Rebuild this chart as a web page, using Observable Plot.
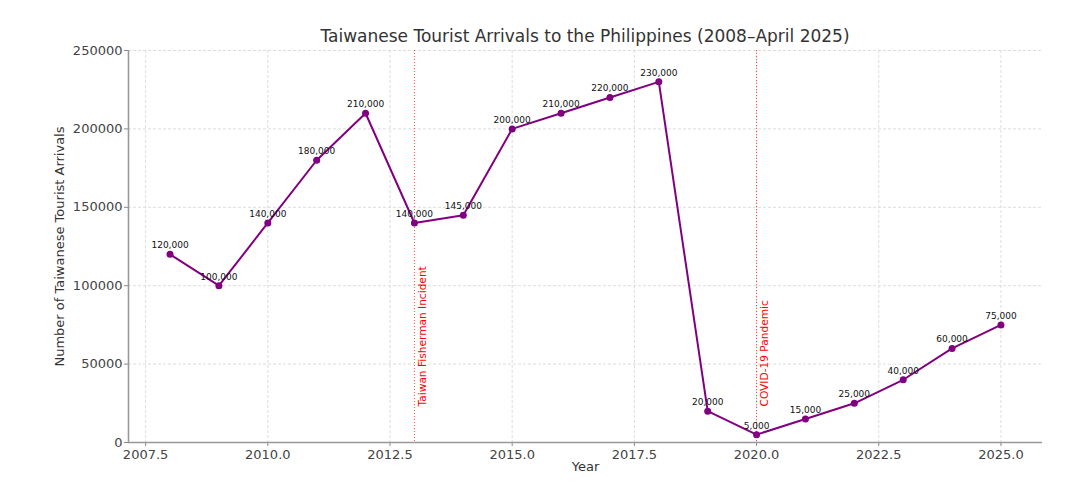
<!DOCTYPE html>
<html>
<head>
<meta charset="utf-8">
<script src="https://cdn.jsdelivr.net/npm/d3@7"></script>
<script src="https://cdn.jsdelivr.net/npm/@observablehq/plot@0.6"></script>
<style>
  body { margin: 0; background: white; font-family: "DejaVu Sans", sans-serif; }
  #wrap { position: relative; width: 1091px; height: 492px; }
  #title { position: absolute; top: 26px; left: 128px; width: 914px; text-align: center;
           font-size: 17px; line-height: 20px; color: #333; }
</style>
</head>
<body>
<div id="wrap">
  <div id="title">Taiwanese Tourist Arrivals to the Philippines (2008–April 2025)</div>
  <div id="chart"></div>
</div>
<script>
const years = [2008, 2009, 2010, 2011, 2012, 2013, 2014, 2015, 2016, 2017, 2018, 2019, 2020, 2021, 2022, 2023, 2024, 2025];
const arrivals = [120000, 100000, 140000, 180000, 210000, 140000, 145000, 200000, 210000, 220000, 230000, 20000, 5000, 15000, 25000, 40000, 60000, 75000];
const eventYears = [2013, 2020];
const eventLabels = ["Taiwan Fisherman Incident", "COVID-19 Pandemic"];
const xTicks = [2007.5, 2010, 2012.5, 2015, 2017.5, 2020, 2022.5, 2025];
const yTicks = [0, 50000, 100000, 150000, 200000, 250000];

const data = years.map((y, i) => ({year: y, value: arrivals[i]}));
const events = eventYears.map((y, i) => ({year: y, label: eventLabels[i]}));
const xDomain = [2007.15, 2025.85];
const fmt = d3.format(",");

const chart = Plot.plot({
  width: 1091,
  height: 492,
  marginLeft: 128,
  marginRight: 49,
  marginTop: 50,
  marginBottom: 50,
  style: {fontFamily: "DejaVu Sans, sans-serif", background: "white"},
  x: {domain: xDomain, label: null},
  y: {domain: [0, 250000], label: null},
  marks: [
    Plot.gridX(xTicks, {stroke: "#d4d4d4", strokeOpacity: 1, strokeDasharray: "3,2", strokeWidth: 0.8}),
    Plot.gridY(yTicks, {stroke: "#d4d4d4", strokeOpacity: 1, strokeDasharray: "3,2", strokeWidth: 0.8}),
    Plot.axisX(xTicks, {tickFormat: d3.format(".1f"), fontSize: 13, color: "#444", tickSize: 4, tickPadding: 3, label: null, stroke: "#888"}),
    Plot.axisY(yTicks, {tickFormat: d3.format("d"), fontSize: 13, color: "#444", tickSize: 4, tickPadding: 2, label: null, stroke: "#888"}),
    Plot.ruleX([xDomain[0]], {stroke: "#999", strokeWidth: 1.6}),
    Plot.ruleY([0], {stroke: "#999", strokeWidth: 1.6}),
    Plot.ruleX(events, {x: "year", stroke: "red", strokeDasharray: "1,2", strokeWidth: 0.9, strokeOpacity: 0.8}),
    Plot.text(events, {x: "year", y: 23000, text: "label", rotate: -90, textAnchor: "start", lineAnchor: "middle", dx: 8, fill: "red", fontSize: 10.6}),
    Plot.line(data, {x: "year", y: "value", stroke: "#800080", strokeWidth: 2}),
    Plot.dot(data, {x: "year", y: "value", fill: "#800080", r: 3.5}),
    Plot.text(data, {x: "year", y: "value", text: d => fmt(d.value), dy: -9, fontSize: 9, fill: "#111"}),
    Plot.text(["Year"], {frameAnchor: "bottom", dy: 28, fontSize: 13, fill: "#333"}),
    Plot.text(["Number of Taiwanese Tourist Arrivals"], {frameAnchor: "left", rotate: -90, textAnchor: "middle", dx: -69, fontSize: 13, fill: "#333"})
  ]
});
document.getElementById("chart").appendChild(chart);
</script>
</body>
</html>
